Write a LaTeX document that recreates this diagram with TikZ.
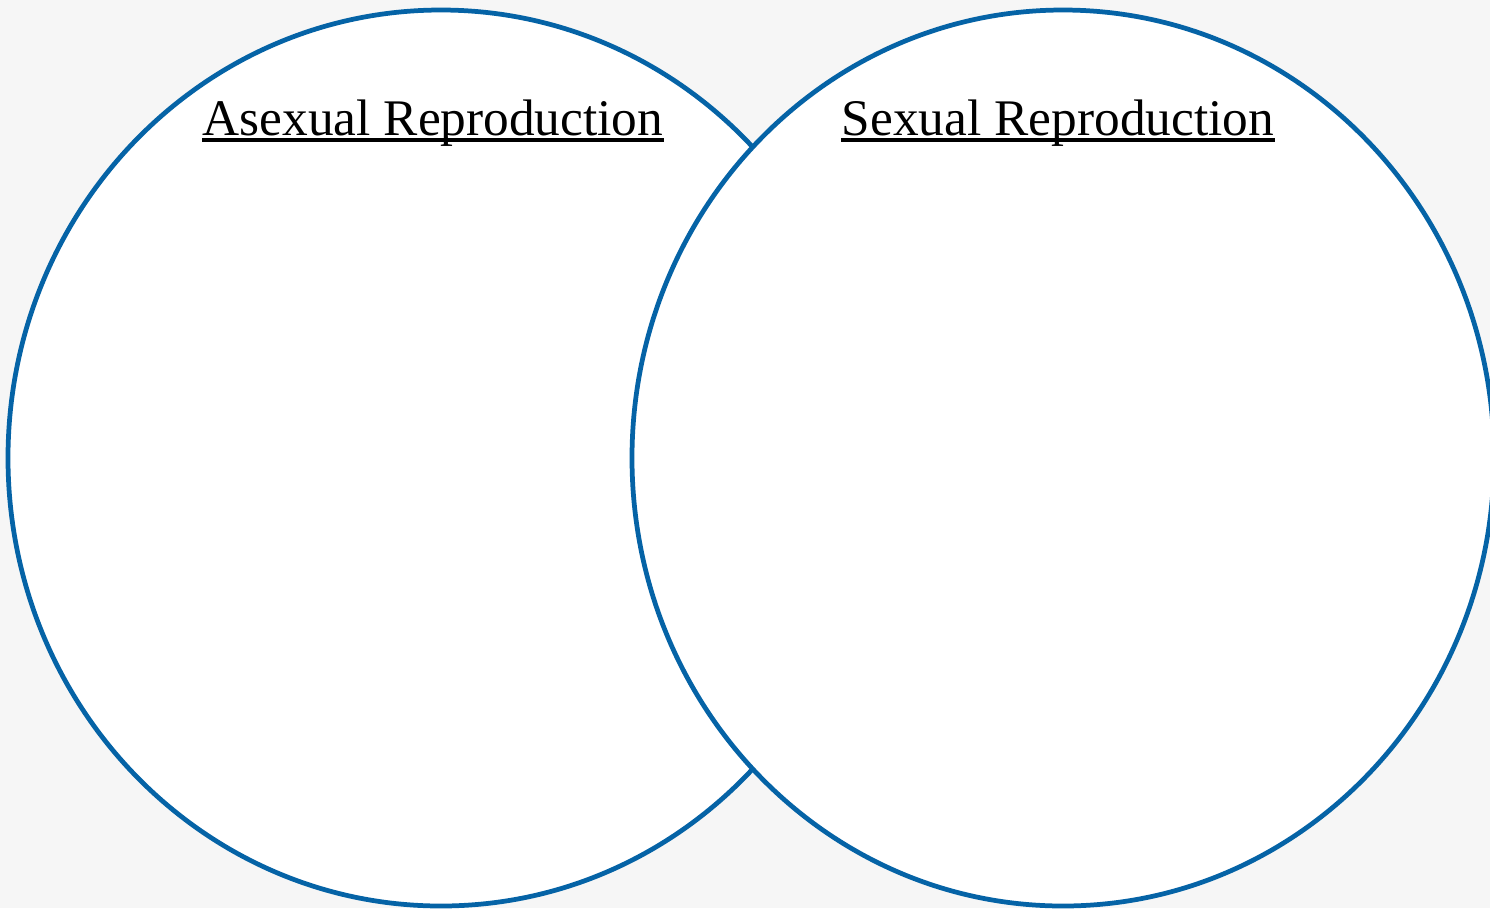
\documentclass[tikz,border=0pt]{standalone}
\usepackage{fontspec}
\setmainfont{Liberation Serif}
\definecolor{vennblue}{RGB}{5,99,166}
\definecolor{bggray}{RGB}{246,246,246}
\begin{document}
\begin{tikzpicture}[x=0.01cm,y=-0.01cm,
  venn/.style={draw=vennblue, line width=1.35pt, fill=white},
  title/.style={anchor=base, inner sep=0pt, font=\fontsize{14.6pt}{16pt}\selectfont},
  uline/.style={line width=0.9pt}]
\useasboundingbox (0,0) rectangle (1490,908);
\clip (0,0) rectangle (1490,908);
\fill[bggray] (0,0) rectangle (1490,908);
\draw[venn] (441,458) ellipse [x radius=433, y radius=448];
\draw[venn] (1063,458) ellipse [x radius=431, y radius=448];
\node[title] (ta) at (433,135) {Asexual Reproduction};
\node[title] (ts) at (1058,135) {Sexual Reproduction};
\draw[uline] ([yshift=-5*0.01cm]ta.base west) -- ([yshift=-5*0.01cm]ta.base east);
\draw[uline] ([yshift=-5*0.01cm]ts.base west) -- ([yshift=-5*0.01cm]ts.base east);
\end{tikzpicture}
\end{document}
